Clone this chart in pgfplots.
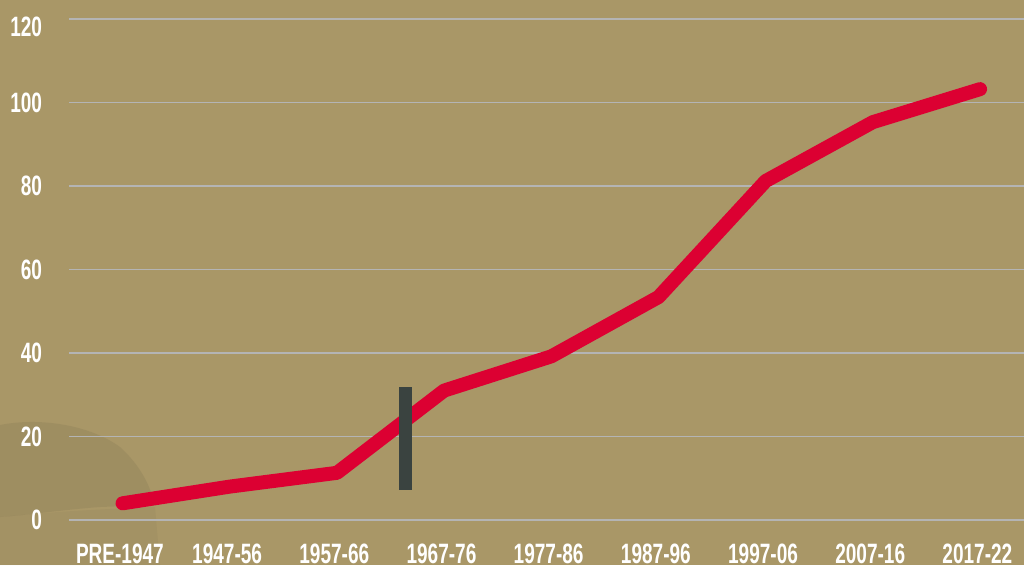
\documentclass[border=0pt]{standalone}
\usepackage{pgfplots}
\pgfplotsset{compat=1.18}
\usepackage{fontspec}
\setmainfont{Liberation Sans}[FakeStretch=0.68]
\definecolor{bg}{HTML}{A99767}
\definecolor{hill}{HTML}{8C7E58}
\definecolor{redl}{HTML}{DC0032}
\definecolor{darkb}{HTML}{3A4340}
\definecolor{gridc}{HTML}{B4B4B4}
\begin{document}
\begin{tikzpicture}[x=0.75pt,y=0.75pt]
\useasboundingbox (0,0) rectangle (1024,565);
\fill[bg] (0,0) rectangle (1024,565);
\fill[hill,opacity=0.35] (0,140) .. controls (40,148) and (90,140) .. (120,118) .. controls (140,100) and (150,80) .. (155,60) -- (100,58) .. controls (60,55) and (30,50) .. (0,48) -- cycle;
\fill[hill,opacity=0.2] (0,48) .. controls (40,52) and (80,55) .. (155,58) -- (160,0) -- (0,0) -- cycle;
\begin{axis}[
  at={(69*0.75pt,45*0.75pt)}, anchor=south west,
  scale only axis, width=955*0.75pt, height=501*0.75pt,
  xmin=-0.5, xmax=8.41, ymin=0, ymax=120,
  axis line style={draw=none},
  ytick={0,20,...,100},
  extra y ticks={120},
  extra y tick style={yticklabel style={yshift=-6pt}},
  xtick={0,...,8},
  xticklabels={PRE-1947,1947-56,1957-66,1967-76,1977-86,1987-96,1997-06,2007-16,2017-22},
  ymajorgrids, grid style={gridc, line width=1.3pt},
  major tick length=0pt,
  tick style={draw=none},
  /pgf/number format/assume math mode=true,
  tick label style={font=\fontsize{21}{22}\selectfont\bfseries, text=white},
  yticklabel style={anchor=east, xshift=-20pt, inner sep=0pt},
  xticklabel style={anchor=north, yshift=-18pt, xshift=-2pt, inner sep=0pt},
  clip=false,
]
\addplot[redl, line width=10.5pt, line cap=round, line join=round] coordinates {
(0,4) (1,8) (2,11.3) (3,31) (4,39.2) (5,53.4) (6,81.2) (7,95.3) (8,103.2)
};
\addplot[darkb, line width=10pt] coordinates {(2.64,7.2) (2.64,31.9)};
\end{axis}
\end{tikzpicture}
\end{document}
